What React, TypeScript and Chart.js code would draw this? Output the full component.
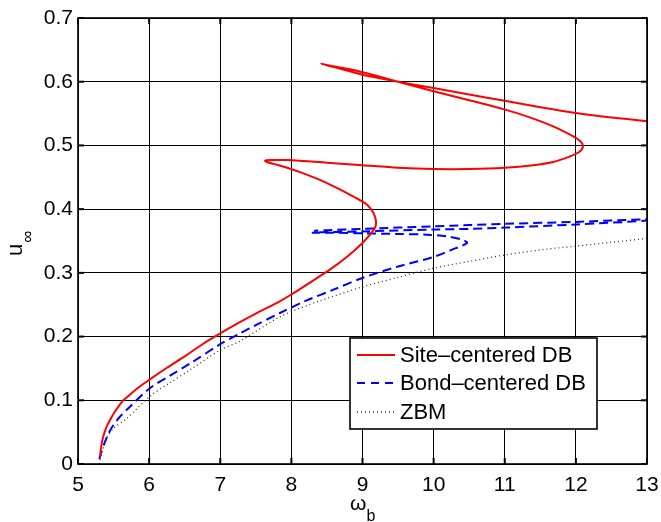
import React, { useEffect, useRef } from "react";
import { Chart, registerables } from "chart.js";

Chart.register(...registerables);

const FONT = "'Liberation Sans', Arial, Helvetica, sans-serif";

const xTicks = [5, 6, 7, 8, 9, 10, 11, 12, 13];
const yTicks = [0, 0.1, 0.2, 0.3, 0.4, 0.5, 0.6, 0.7];
const seriesLabels = ["Site–centered DB", "Bond–centered DB", "ZBM"];

const siteX = [
  5.31, 5.33, 5.36, 5.40, 5.45, 5.50, 5.56, 5.63, 5.70, 5.85, 6.00, 6.25, 6.50, 6.75, 7.00, 7.25, 7.50, 7.83, 8.00,
  8.25, 8.54, 8.80, 9.00, 9.12, 9.18, 9.19, 9.17, 9.12, 9.04, 8.90, 8.70, 8.40, 8.15, 7.94, 7.75, 7.66, 7.63,
  7.70, 7.94, 8.50, 9.00, 9.50, 10.00, 10.50, 11.00, 11.40, 11.68, 11.90, 12.05, 12.10, 12.06, 11.95, 11.68,
  11.30, 10.98, 10.50, 10.00, 9.50, 9.00, 8.70, 8.42, 8.70, 9.00, 9.50, 10.00, 10.50, 11.00, 11.50, 12.00,
  12.50, 13.00,
];
const siteY = [
  0.012, 0.030, 0.045, 0.058, 0.069, 0.079, 0.089, 0.099, 0.106, 0.120, 0.132, 0.151, 0.169, 0.188, 0.205, 0.221, 0.236,
  0.255, 0.266, 0.284, 0.305, 0.327, 0.347, 0.362, 0.372, 0.380, 0.390, 0.400, 0.409, 0.418, 0.430, 0.446, 0.457,
  0.465, 0.471, 0.474, 0.476, 0.477, 0.477, 0.473, 0.469, 0.465, 0.463, 0.463, 0.465, 0.469, 0.474, 0.482, 0.490,
  0.499, 0.507, 0.515, 0.530, 0.546, 0.557, 0.571, 0.585, 0.600, 0.615, 0.622, 0.628, 0.620, 0.611, 0.600, 0.590,
  0.580, 0.570, 0.560, 0.551, 0.544, 0.538,
];

const bondX = [
  5.30, 5.33, 5.38, 5.43, 5.48, 5.58, 5.73, 6.01, 6.30, 6.58, 7.00, 7.28, 7.50, 7.84, 8.20, 8.60, 9.00, 9.50,
  10.00, 10.25, 10.47, 10.40, 10.20, 9.90, 9.50, 9.00, 8.60, 8.30, 8.50, 9.00, 10.00, 10.50, 11.00, 12.00, 13.00,
  13.00, 12.00, 11.00, 10.50, 10.00, 9.00, 8.50, 8.32,
];
const bondY = [
  0.008, 0.020, 0.035, 0.048, 0.058, 0.073, 0.090, 0.119, 0.139, 0.158, 0.188, 0.205, 0.218, 0.237, 0.256, 0.274,
  0.292, 0.310, 0.325, 0.336, 0.347, 0.352, 0.357, 0.360, 0.361, 0.362, 0.363, 0.363, 0.364, 0.365, 0.368, 0.369,
  0.371, 0.376, 0.382, 0.384, 0.380, 0.377, 0.375, 0.373, 0.369, 0.367, 0.366,
];

const zbmX = [
  5.30, 5.33, 5.37, 5.41, 5.50, 5.69, 6.01, 6.30, 6.58, 7.00, 7.28, 7.84, 8.40, 9.00, 9.50, 9.99, 10.50, 11.00,
  11.50, 12.00, 12.50, 13.00,
];
const zbmY = [
  0.000, 0.015, 0.030, 0.042, 0.056, 0.072, 0.106, 0.128, 0.148, 0.179, 0.193, 0.231, 0.256, 0.278, 0.293, 0.307,
  0.318, 0.328, 0.336, 0.342, 0.348, 0.354,
];

const toPoints = (xs: number[], ys: number[]) => xs.map((x, i) => ({ x, y: ys[i] }));

const decorPlugin = {
  id: "decor",
  afterDraw(chart: any) {
    const { ctx, chartArea: a, scales } = chart;
    ctx.save();
    const seg = (x1: number, y1: number, x2: number, y2: number) => {
      ctx.beginPath();
      ctx.moveTo(x1, y1);
      ctx.lineTo(x2, y2);
      ctx.stroke();
    };
    // axes box
    ctx.strokeStyle = "#000";
    ctx.lineWidth = 1.6;
    ctx.setLineDash([]);
    ctx.strokeRect(a.left, a.top, a.right - a.left, a.bottom - a.top);
    // inner tick marks
    ctx.lineWidth = 2;
    xTicks.forEach((v) => {
      const px = scales.x.getPixelForValue(v);
      seg(px, a.bottom, px, a.bottom - 6);
      seg(px, a.top, px, a.top + 6);
    });
    yTicks.forEach((v) => {
      const py = scales.y.getPixelForValue(v);
      seg(a.left, py, a.left + 6, py);
      seg(a.right, py, a.right - 6, py);
    });

    // legend
    const lx = a.right - 297;
    const ly = a.bottom - 126;
    const lw = 247;
    const lh = 91;
    ctx.fillStyle = "#fff";
    ctx.fillRect(lx, ly, lw, lh);
    ctx.strokeStyle = "#000";
    ctx.lineWidth = 1.6;
    ctx.strokeRect(lx, ly, lw, lh);
    const rows = [17, 45, 74];
    chart.data.datasets.forEach((ds: any, i: number) => {
      const ry = ly + rows[i];
      ctx.strokeStyle = ds.borderColor;
      ctx.lineWidth = ds.borderWidth;
      ctx.setLineDash(i === 1 ? [8, 6] : ds.borderDash || []);
      seg(lx + 7, ry, lx + 45, ry);
      ctx.setLineDash([]);
      ctx.fillStyle = "#000";
      ctx.font = `22px ${FONT}`;
      ctx.textAlign = "left";
      ctx.textBaseline = "middle";
      ctx.fillText(ds.label, lx + 50, ry + 1);
    });

    // x axis title: omega_b
    ctx.fillStyle = "#000";
    ctx.textBaseline = "alphabetic";
    ctx.textAlign = "left";
    ctx.font = `21px ${FONT}`;
    ctx.fillText("ω", 350, 510);
    const ow = ctx.measureText("ω").width;
    ctx.font = `16px ${FONT}`;
    ctx.fillText("b", 350 + ow, 521);

    // y axis title: u_inf (rotated)
    ctx.save();
    ctx.translate(22, 256);
    ctx.rotate(-Math.PI / 2);
    ctx.font = `22px ${FONT}`;
    ctx.fillText("u", 0, 0);
    const uw = ctx.measureText("u").width;
    ctx.font = `17px ${FONT}`;
    ctx.fillText("∞", uw + 1, 11);
    ctx.restore();

    ctx.restore();
  },
};

export default function App() {
  const ref = useRef<HTMLCanvasElement | null>(null);

  useEffect(() => {
    if (!ref.current) return;
    const chart = new Chart(ref.current, {
      type: "scatter",
      data: {
        datasets: [
          {
            label: seriesLabels[0],
            data: toPoints(siteX, siteY),
            showLine: true,
            borderColor: "#ff0000",
            borderWidth: 2,
            pointRadius: 0,
            tension: 0.3,
            fill: false,
          },
          {
            label: seriesLabels[1],
            data: toPoints(bondX, bondY),
            showLine: true,
            borderColor: "#0000ff",
            borderWidth: 2,
            borderDash: [9, 5],
            pointRadius: 0,
            tension: 0.3,
            fill: false,
          },
          {
            label: seriesLabels[2],
            data: toPoints(zbmX, zbmY),
            showLine: true,
            borderColor: "#333333",
            borderWidth: 1.3,
            borderDash: [1, 3],
            pointRadius: 0,
            tension: 0.3,
            fill: false,
          },
        ],
      },
      options: {
        animation: false,
        responsive: false,
        devicePixelRatio: 1,
        layout: { padding: { top: 18, right: 14, bottom: 0, left: 0 } },
        plugins: {
          legend: { display: false },
          tooltip: { enabled: false },
          title: { display: false },
        },
        scales: {
          x: {
            type: "linear",
            min: 5,
            max: 13,
            afterFit: (s: any) => {
              s.height = 58;
              s.paddingLeft = 0;
              s.paddingRight = 0;
            },
            afterBuildTicks: (s: any) => {
              s.ticks = xTicks.map((v) => ({ value: v }));
            },
            ticks: {
              color: "#000",
              padding: 9,
              font: { family: FONT, size: 21 },
              callback: (v: any) => String(v),
            },
            grid: { color: "#000", lineWidth: 1, drawTicks: false },
            border: { display: false },
          },
          y: {
            type: "linear",
            min: 0,
            max: 0.7,
            afterFit: (s: any) => {
              s.width = 78;
              s.paddingTop = 0;
              s.paddingBottom = 0;
            },
            afterBuildTicks: (s: any) => {
              s.ticks = yTicks.map((v) => ({ value: v }));
            },
            ticks: {
              color: "#000",
              padding: 5,
              font: { family: FONT, size: 21 },
              callback: (v: any) => String(+Number(v).toFixed(1)),
            },
            grid: { color: "#000", lineWidth: 1, drawTicks: false },
            border: { display: false },
          },
        },
      },
      plugins: [decorPlugin],
    });
    return () => chart.destroy();
  }, []);

  return (
    <div style={{ position: "absolute", left: 0, top: 0, width: 661, height: 522, background: "#fff" }}>
      <canvas ref={ref} width={661} height={522} />
    </div>
  );
}
